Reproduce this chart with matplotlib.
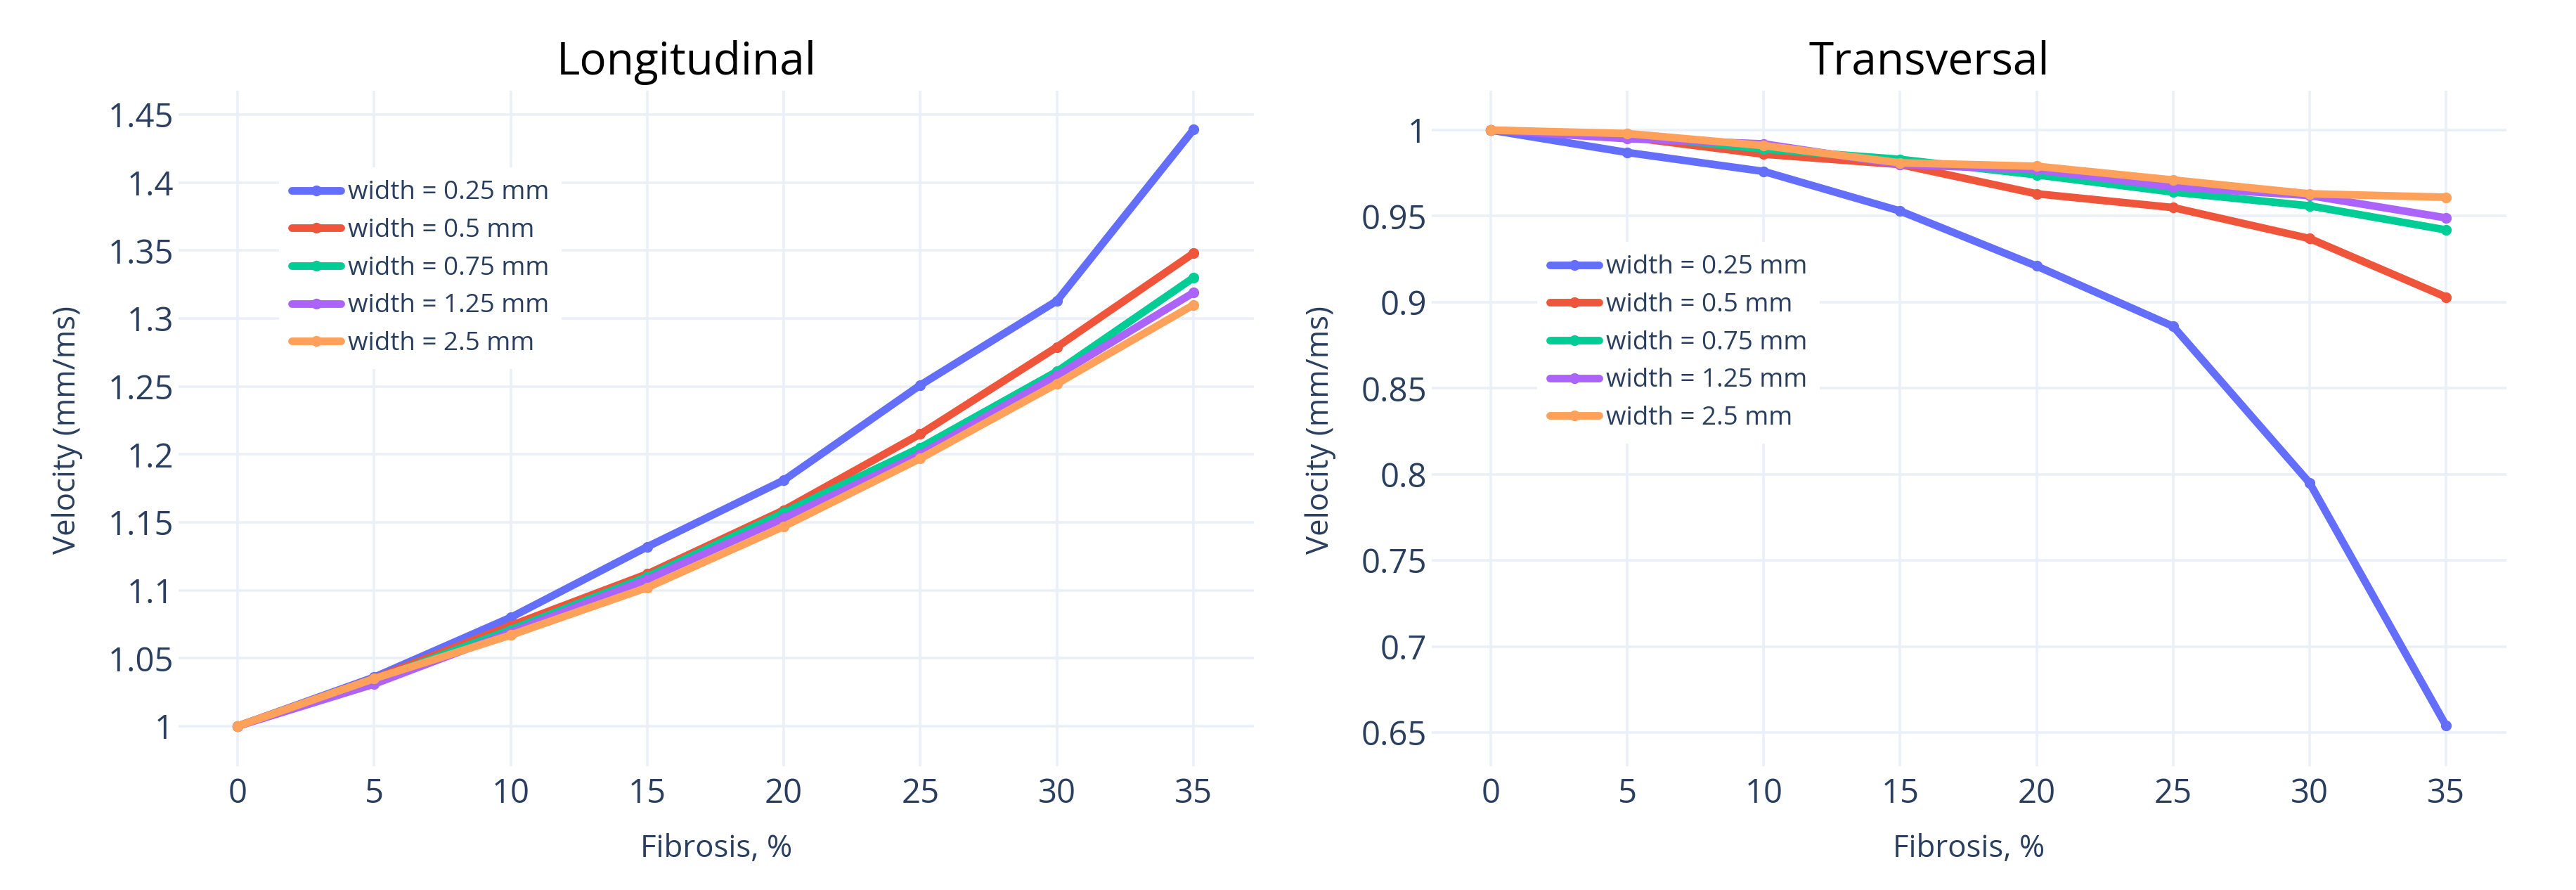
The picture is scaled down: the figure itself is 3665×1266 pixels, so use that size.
import numpy as np
import matplotlib
matplotlib.use('Agg')
import matplotlib.pyplot as plt

# data
fibrosis = [0, 5, 10, 15, 20, 25, 30, 35]
widths = ['width = 0.25 mm', 'width = 0.5 mm', 'width = 0.75 mm', 'width = 1.25 mm', 'width = 2.5 mm']

long_025 = [1.0, 1.036, 1.080, 1.132, 1.181, 1.251, 1.313, 1.439]
long_05 = [1.0, 1.035, 1.074, 1.112, 1.159, 1.215, 1.279, 1.348]
long_075 = [1.0, 1.034, 1.071, 1.110, 1.157, 1.205, 1.261, 1.330]
long_125 = [1.0, 1.031, 1.069, 1.108, 1.153, 1.200, 1.258, 1.319]
long_25 = [1.0, 1.035, 1.067, 1.102, 1.147, 1.197, 1.252, 1.310]

trans_025 = [1.0, 0.987, 0.976, 0.953, 0.921, 0.886, 0.795, 0.654]
trans_05 = [1.0, 0.996, 0.986, 0.980, 0.963, 0.955, 0.937, 0.903]
trans_075 = [1.0, 0.997, 0.989, 0.983, 0.974, 0.964, 0.956, 0.942]
trans_125 = [1.0, 0.995, 0.992, 0.980, 0.977, 0.967, 0.962, 0.949]
trans_25 = [1.0, 0.998, 0.991, 0.981, 0.979, 0.971, 0.963, 0.961]

long_ticks = [1, 1.05, 1.1, 1.15, 1.2, 1.25, 1.3, 1.35, 1.4, 1.45]
trans_ticks = [0.65, 0.7, 0.75, 0.8, 0.85, 0.9, 0.95, 1]

colors = ['#636efa', '#EF553B', '#00cc96', '#ab63fa', '#FFA15A']
txt = '#2a3f5f'
grid = '#EBF0F8'

plt.rcParams['font.family'] = ['Open Sans', 'DejaVu Sans']

W, H = 3666, 1266
fig = plt.figure(figsize=(W / 100, H / 100), dpi=100)


def px_axes(x0, y0, x1, y1):
    return fig.add_axes([x0 / W, 1 - y1 / H, (x1 - x0) / W, (y1 - y0) / H])


def fmt(v):
    s = ('%.2f' % v).rstrip('0').rstrip('.')
    return s


def panel(ax, series, ticks, ylim, leg_xy):
    for vals, c, lab in zip(series, colors, widths):
        ax.plot(fibrosis, vals, color=c, lw=7.8, marker='o', ms=10,
                solid_joinstyle='round', solid_capstyle='round', label=lab)
    ax.set_xlim(-2.16, 37.21)
    ax.set_ylim(*ylim)
    ax.set_xticks(fibrosis)
    ax.set_yticks(ticks)
    ax.set_yticklabels([fmt(t) for t in ticks])
    ax.grid(True, color=grid, lw=2.6)
    ax.set_axisbelow(True)
    for s in ax.spines.values():
        s.set_visible(False)
    ax.tick_params(axis='both', length=0, labelsize=34, labelcolor=txt)
    ax.tick_params(axis='x', pad=11)
    ax.tick_params(axis='y', pad=5)
    leg = ax.legend(loc='upper left', bbox_to_anchor=(leg_xy[0] / W, 1 - leg_xy[1] / H),
                    bbox_transform=fig.transFigure, fontsize=26.5, frameon=True,
                    fancybox=False, framealpha=1, facecolor='white', edgecolor='none',
                    handlelength=1.9, handletextpad=0.25, labelspacing=0.48,
                    borderpad=0.5, borderaxespad=0, numpoints=1)
    for t in leg.get_texts():
        t.set_color(txt)
    for h in leg.get_lines():
        h.set_linewidth(7.8)
        h.set_markersize(10)


ax1 = px_axes(254, 129, 1784, 1090)
panel(ax1, [long_025, long_05, long_075, long_125, long_25], long_ticks,
      (0.9705, 1.4676), (397, 238))

ax2 = px_axes(2037, 129, 3566, 1090)
panel(ax2, [trans_025, trans_05, trans_075, trans_125, trans_25], trans_ticks,
      (0.6304, 1.0229), (2187, 344))

# titles and axis labels
fig.text(977 / W, 1 - 106 / H, 'Longitudinal', ha='center', va='baseline', fontsize=46, color='black')
fig.text(2745 / W, 1 - 106 / H, 'Transversal', ha='center', va='baseline', fontsize=46, color='black')
fig.text(1019 / W, 1 - 1219 / H, 'Fibrosis, %', ha='center', va='baseline', fontsize=31.5, color=txt)
fig.text(2801 / W, 1 - 1219 / H, 'Fibrosis, %', ha='center', va='baseline', fontsize=31.5, color=txt)
fig.text(96 / W, 1 - 611 / H, 'Velocity (mm/ms)', ha='center', va='center', rotation=90, fontsize=31.5, color=txt)
fig.text(1879 / W, 1 - 611 / H, 'Velocity (mm/ms)', ha='center', va='center', rotation=90, fontsize=31.5, color=txt)

plt.savefig('out.png', dpi=100)
